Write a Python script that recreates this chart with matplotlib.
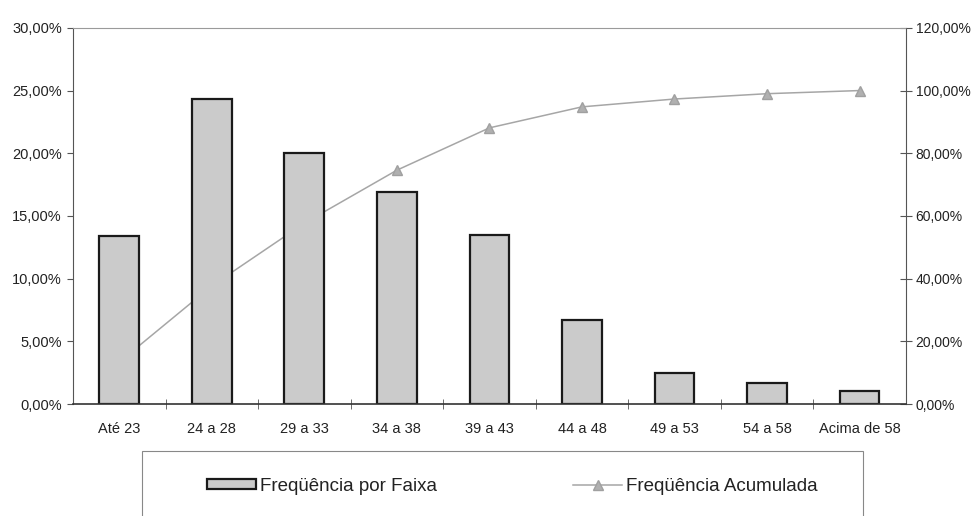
import numpy as np
import matplotlib
matplotlib.use('Agg')
import matplotlib.pyplot as plt
from matplotlib.patches import Rectangle
from matplotlib.ticker import FuncFormatter, MultipleLocator

plt.rcParams['font.family'] = ['Liberation Sans', 'DejaVu Sans']

faixas = ['Até 23', '24 a 28', '29 a 33', '34 a 38', '39 a 43',
          '44 a 48', '49 a 53', '54 a 58', 'Acima de 58']
freq_faixa = [13.4, 24.3, 20.0, 16.9, 13.5, 6.7, 2.5, 1.7, 1.0]
freq_acum = [13.4, 37.7, 57.7, 74.6, 88.1, 94.8, 97.3, 99.0, 100.0]

def pct(v, pos):
    return ('%.2f%%' % v).replace('.', ',')

fig = plt.figure(figsize=(9.74, 5.16), dpi=100)
ax = fig.add_axes([0.075, 0.217, 0.855, 0.729])
ax2 = ax.twinx()

x = np.arange(len(faixas))

# linha acumulada (eixo direito), atras das barras
line, = ax2.plot(x, freq_acum, color='#a6a6a6', lw=1.1, marker='^',
                 markersize=7, markerfacecolor='#b0b0b0',
                 markeredgecolor='#a0a0a0', label='Freqüência Acumulada')
ax2.set_ylim(0, 120)
ax2.yaxis.set_major_locator(MultipleLocator(20))
ax2.yaxis.set_major_formatter(FuncFormatter(pct))

bars = ax.bar(x, freq_faixa, width=0.43, color='#cbcbcb', edgecolor='#1a1a1a',
              linewidth=1.6, label='Freqüência por Faixa')
ax.set_ylim(0, 30)
ax.set_xlim(-0.5, len(faixas) - 0.5)
ax.yaxis.set_major_locator(MultipleLocator(5))
ax.yaxis.set_major_formatter(FuncFormatter(pct))

# barras por cima da linha
ax.set_zorder(ax2.get_zorder() + 1)
ax.patch.set_visible(False)

ax.set_xticks(x)
ax.set_xticklabels(faixas)
ax.set_xticks(np.arange(len(faixas) - 1) + 0.5, minor=True)
ax.tick_params(axis='x', which='major', length=0, pad=13, labelsize=10.5,
               labelcolor='#222222')
ax.tick_params(axis='x', which='minor', direction='inout', length=7,
               color='#555555')
ax.tick_params(axis='y', direction='out', length=4, pad=4, labelsize=10.5,
               color='#555555', labelcolor='#222222')
ax2.tick_params(axis='y', direction='inout', length=8, pad=3, labelsize=10,
                color='#555555', labelcolor='#222222')

ax.spines['left'].set_color('#555555')
ax.spines['bottom'].set_color('#333333')
ax.spines['bottom'].set_linewidth(1.2)
ax.spines['right'].set_visible(False)
ax.spines['top'].set_color('#9a9a9a')
ax.spines['top'].set_linestyle((0, (1, 1)))
ax2.spines['left'].set_visible(False)
ax2.spines['bottom'].set_visible(False)
ax2.spines['top'].set_visible(False)
ax2.spines['right'].set_color('#555555')

# caixa da legenda
fig.patches.append(Rectangle((142 / 974, -0.01), 721 / 974, 0.135,
                             transform=fig.transFigure, fill=False,
                             edgecolor='#888888', linewidth=0.8))

leg = fig.legend([bars, line], ['Freqüência por Faixa', 'Freqüência Acumulada'],
                 loc='center', bbox_to_anchor=(0.526, 0.058),
                 ncol=2, fontsize=13.5, frameon=False,
                 handlelength=2.6, handleheight=0.5,
                 handletextpad=0.2, columnspacing=7.3)
for t in leg.get_texts():
    t.set_color('#222222')

fig.savefig('out.png', dpi=100)
